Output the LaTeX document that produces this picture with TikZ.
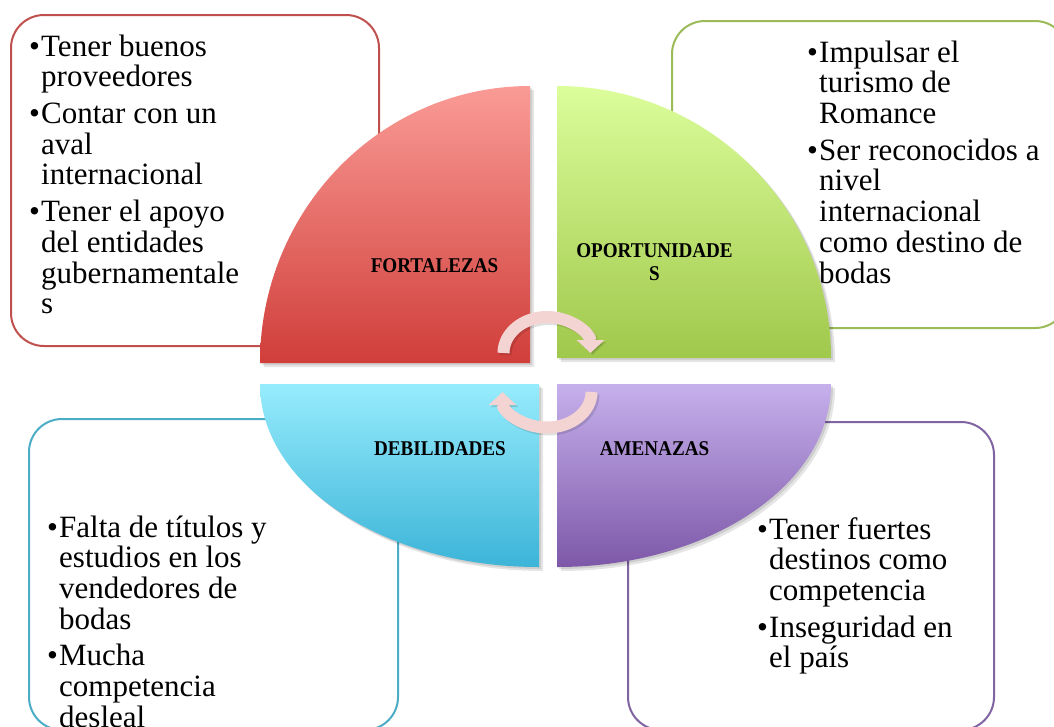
\documentclass[tikz,border=0pt]{standalone}
\usepackage{fontspec}
\setmainfont{Liberation Serif}
\usetikzlibrary{arrows.meta}
\definecolor{boxred}{HTML}{C0504D}
\definecolor{boxgreen}{HTML}{9BBB59}
\definecolor{boxcyan}{HTML}{4BACC6}
\definecolor{boxpurple}{HTML}{8064A2}
\definecolor{redtop}{HTML}{FA9B96}
\definecolor{redbot}{HTML}{D03E3A}
\definecolor{greentop}{HTML}{DCFD9B}
\definecolor{greenbot}{HTML}{A0C84B}
\definecolor{cyantop}{HTML}{96ECFC}
\definecolor{cyanbot}{HTML}{3CB4D8}
\definecolor{purptop}{HTML}{C6B0EC}
\definecolor{purpbot}{HTML}{7D58A8}
\definecolor{arrowpink}{HTML}{F4D3D3}
\newcommand\mybul{\makebox[12pt][l]{•}}
\newcommand\myind{\hspace*{12pt}}
\begin{document}
\begin{tikzpicture}[x=1pt,y=1pt,
  box/.style={line width=2pt, rounded corners=33pt, fill=white},
  itemtext/.style={anchor=base west, inner sep=0pt, font=\fontsize{31}{30.7}\selectfont},
  qlabel/.style={anchor=base, inner sep=0pt, font=\fontsize{21}{23}\selectfont\bfseries},
  cyc/.style={line width=12pt, draw=arrowpink, -{Triangle[width=27pt,length=13pt]}},
  cycshadow/.style={line width=12pt, draw=black, opacity=0.12, -{Triangle[width=27pt,length=13pt]}},
  shadowA/.style={fill=black, opacity=0.10}]
\useasboundingbox (0,0) rectangle (1054,-726);
\clip (0,0) rectangle (1054,-726);
% boxes
\draw[box, draw=boxred] (11,-15) rectangle (379,-346);
\draw[box, draw=boxgreen] (672,-21) rectangle (1068,-328);
\draw[box, draw=boxcyan] (29,-419) rectangle (398,-730);
\draw[box, draw=boxpurple] (628,-422) rectangle (994,-730);
% shadows of quadrants
\foreach \s in {2,4}{
  \fill[shadowA, shift={(\s,-\s)}] (530,-363) -- (260,-363) arc[start angle=180, end angle=90, x radius=270, y radius=277] -- cycle;
  \fill[shadowA, shift={(\s,-\s)}] (557,-358) -- (831,-358) arc[start angle=0, end angle=90, x radius=274, y radius=272] -- cycle;
  \fill[shadowA, shift={(\s,-\s)}] (539,-384) -- (260,-384) arc[start angle=180, end angle=270, x radius=279, y radius=183] -- cycle;
  \fill[shadowA, shift={(\s,-\s)}] (557,-384) -- (831,-384) arc[start angle=0, end angle=-90, x radius=274, y radius=183] -- cycle;
}
% quadrants
\shade[top color=redtop, bottom color=redbot] (530,-363) -- (260,-363) arc[start angle=180, end angle=90, x radius=270, y radius=277] -- cycle;
\shade[top color=greentop, bottom color=greenbot] (557,-358) -- (831,-358) arc[start angle=0, end angle=90, x radius=274, y radius=272] -- cycle;
\shade[top color=cyantop, bottom color=cyanbot] (539,-384) -- (260,-384) arc[start angle=180, end angle=270, x radius=279, y radius=183] -- cycle;
\shade[top color=purptop, bottom color=purpbot] (557,-384) -- (831,-384) arc[start angle=0, end angle=-90, x radius=274, y radius=183] -- cycle;
% box texts
\node[itemtext] (ftxt) at (29,-56) {\begin{tabular}[t]{@{}l@{}}
\mybul Tener buenos\\ \myind proveedores\\[6pt]
\mybul Contar con un\\ \myind aval\\ \myind internacional\\[6pt]
\mybul Tener el apoyo\\ \myind del entidades\\ \myind gubernamentale\\ \myind s\end{tabular}};
\node[itemtext] (otxt) at (807,-62) {\begin{tabular}[t]{@{}l@{}}
\mybul Impulsar el\\ \myind turismo de\\ \myind Romance\\[6pt]
\mybul Ser reconocidos a\\ \myind nivel\\ \myind internacional\\ \myind como destino de\\ \myind bodas\end{tabular}};
\node[itemtext] (dtxt) at (47,-537) {\begin{tabular}[t]{@{}l@{}}
\mybul Falta de títulos y\\ \myind estudios en los\\ \myind vendedores de\\ \myind bodas\\[6pt]
\mybul Mucha\\ \myind competencia\\ \myind desleal\end{tabular}};
\node[itemtext] (atxt) at (757,-539) {\begin{tabular}[t]{@{}l@{}}
\mybul Tener fuertes\\ \myind destinos como\\ \myind competencia\\[6pt]
\mybul Inseguridad en\\ \myind el país\end{tabular}};
% quadrant labels
\node[qlabel] (fort) at (434.5,-272) {\scalebox{0.91}[1]{FORTALEZAS}};
\node[qlabel] (opor) at (654.5,-257) {\scalebox{0.91}[1]{\begin{tabular}[t]{@{}c@{}}OPORTUNIDADE\\ S\end{tabular}}};
\node[qlabel] (debi) at (440,-455) {\scalebox{0.91}[1]{DEBILIDADES}};
\node[qlabel] (amen) at (654.5,-455) {\scalebox{0.91}[1]{AMENAZAS}};
% cycle arrows
\draw[cycshadow, shift={(2,-2)}] (503.5,-353) arc[start angle=180, end angle=0, x radius=43.5, y radius=36];
\draw[cycshadow, shift={(2,-2)}] (591.5,-392) arc[start angle=0, end angle=-180, x radius=44.5, y radius=35.5];
\draw[cyc] (503.5,-353) arc[start angle=180, end angle=0, x radius=43.5, y radius=36];
\draw[cyc] (591.5,-392) arc[start angle=0, end angle=-180, x radius=44.5, y radius=35.5];
\end{tikzpicture}
\end{document}
